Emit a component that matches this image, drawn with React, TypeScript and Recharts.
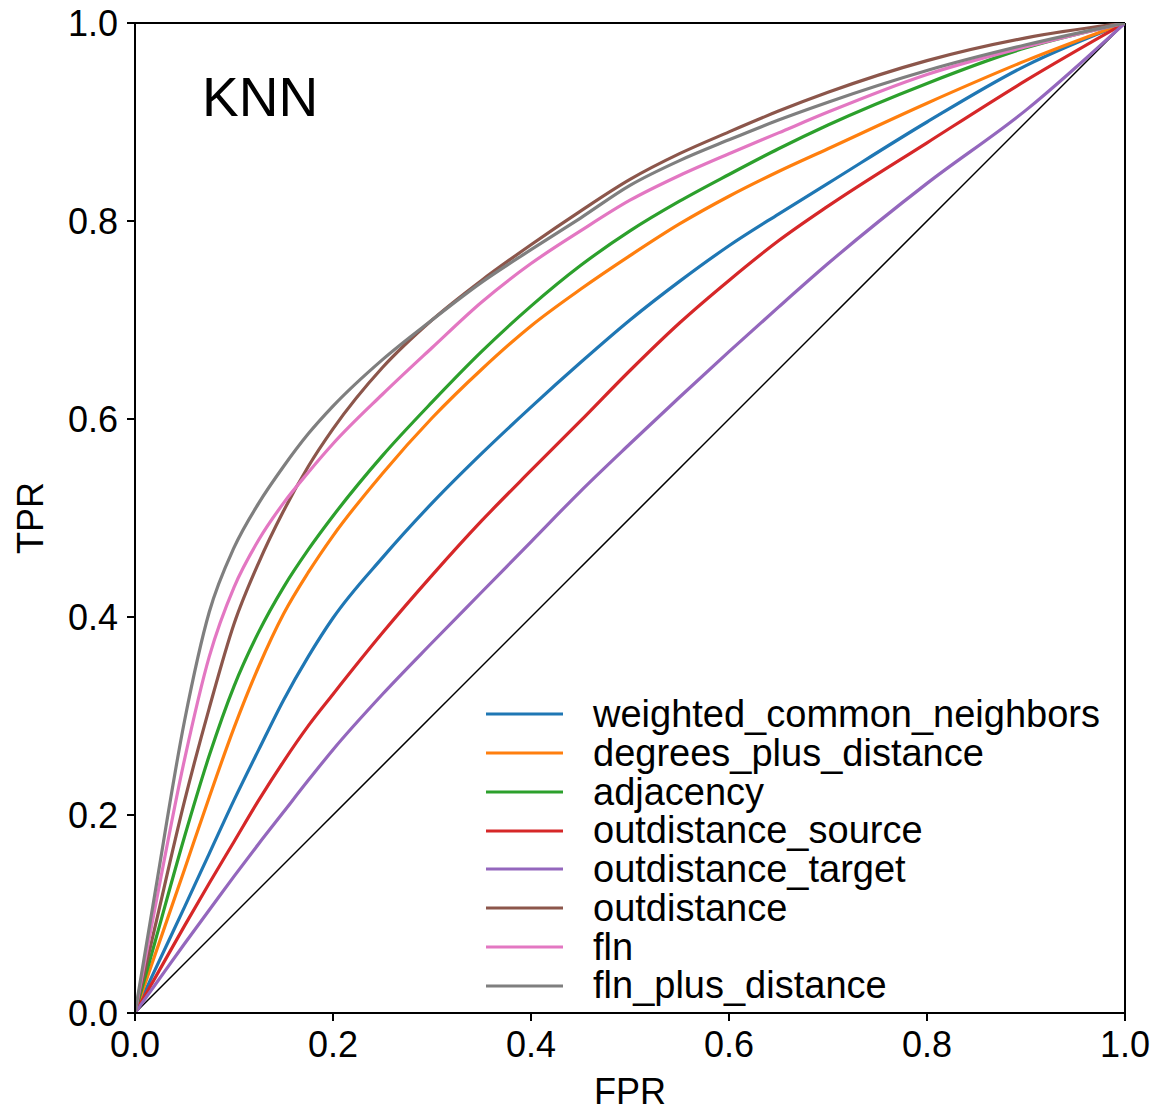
import React from "react";
import {
  LineChart,
  Line,
  XAxis,
  YAxis,
  ReferenceLine,
  Label,
} from "recharts";

// false positive rate grid shared by all curves
const fpr = [0, 0.02, 0.05, 0.075, 0.1, 0.125, 0.15, 0.175, 0.2, 0.25, 0.3, 0.35, 0.4, 0.45, 0.5, 0.55, 0.6, 0.65, 0.7, 0.8, 0.9, 1];

const weightedCommonNeighbors = [0, 0.043, 0.107, 0.161, 0.215, 0.266, 0.316, 0.36, 0.399, 0.46, 0.515, 0.565, 0.612, 0.657, 0.7, 0.739, 0.775, 0.807, 0.838, 0.9, 0.957, 1];
const degreesPlusDistance = [0, 0.058, 0.145, 0.218, 0.288, 0.35, 0.403, 0.445, 0.482, 0.545, 0.601, 0.65, 0.694, 0.731, 0.765, 0.797, 0.825, 0.85, 0.873, 0.919, 0.962, 1];
const adjacency = [0, 0.071, 0.178, 0.26, 0.33, 0.385, 0.43, 0.468, 0.502, 0.563, 0.617, 0.668, 0.714, 0.755, 0.79, 0.82, 0.847, 0.873, 0.897, 0.939, 0.975, 1];
const outdistanceSource = [0, 0.035, 0.088, 0.131, 0.173, 0.215, 0.254, 0.29, 0.322, 0.384, 0.442, 0.497, 0.548, 0.598, 0.649, 0.697, 0.74, 0.78, 0.815, 0.879, 0.942, 1];
const outdistanceTarget = [0, 0.028, 0.07, 0.104, 0.138, 0.171, 0.203, 0.235, 0.266, 0.322, 0.374, 0.425, 0.476, 0.527, 0.575, 0.622, 0.668, 0.713, 0.757, 0.838, 0.912, 1];
const outdistance = [0, 0.086, 0.214, 0.308, 0.393, 0.455, 0.507, 0.552, 0.59, 0.652, 0.7, 0.74, 0.776, 0.81, 0.842, 0.868, 0.89, 0.911, 0.93, 0.962, 0.985, 1];
const fln = [0, 0.105, 0.256, 0.36, 0.43, 0.478, 0.515, 0.546, 0.575, 0.625, 0.672, 0.718, 0.757, 0.79, 0.821, 0.846, 0.868, 0.889, 0.91, 0.948, 0.976, 1];
const flnPlusDistance = [0, 0.12, 0.295, 0.405, 0.47, 0.515, 0.552, 0.585, 0.613, 0.66, 0.7, 0.738, 0.771, 0.803, 0.836, 0.861, 0.882, 0.902, 0.92, 0.952, 0.978, 1];

const ticks = [0, 0.2, 0.4, 0.6, 0.8, 1];
const diagonal = [
  { fpr: 0, diag: 0 },
  { fpr: 1, diag: 1 },
];

const SERIES = [
  { key: "wcn", name: "weighted_common_neighbors", values: weightedCommonNeighbors, color: "#1f77b4" },
  { key: "dpd", name: "degrees_plus_distance", values: degreesPlusDistance, color: "#ff7f0e" },
  { key: "adj", name: "adjacency", values: adjacency, color: "#2ca02c" },
  { key: "ods", name: "outdistance_source", values: outdistanceSource, color: "#d62728" },
  { key: "odt", name: "outdistance_target", values: outdistanceTarget, color: "#9467bd" },
  { key: "od", name: "outdistance", values: outdistance, color: "#8c564b" },
  { key: "fln", name: "fln", values: fln, color: "#e377c2" },
  { key: "flnd", name: "fln_plus_distance", values: flnPlusDistance, color: "#7f7f7f" },
];

const chartData = fpr.map((x, i) => {
  const row: Record<string, number> = { fpr: x };
  SERIES.forEach((s) => {
    row[s.key] = s.values[i];
  });
  return row;
});

const FONT = '"Liberation Sans", Arial, Helvetica, sans-serif';
const tickStyle = { fontSize: 36, fill: "#000", fontFamily: FONT };

export default function App() {
  return (
    <div style={{ position: "absolute", left: 0, top: 0, width: 1159, height: 1114, background: "#fff", fontFamily: FONT }}>
      <LineChart
        width={1159}
        height={1114}
        data={chartData}
        margin={{ top: 23, right: 34, bottom: 0, left: 0 }}
      >
        <XAxis
          dataKey="fpr"
          type="number"
          domain={[0, 1]}
          ticks={ticks}
          tickFormatter={(v: number) => v.toFixed(1)}
          height={101}
          tickSize={8}
          tickMargin={10}
          tick={tickStyle}
          axisLine={{ stroke: "#000", strokeWidth: 2 }}
          tickLine={{ stroke: "#000", strokeWidth: 2 }}
          allowDataOverflow
        >
          <Label value="FPR" position="insideBottom" offset={10} style={{ fontSize: 36, fill: "#000", fontFamily: FONT }} />
        </XAxis>
        <YAxis
          type="number"
          domain={[0, 1]}
          ticks={ticks}
          tickFormatter={(v: number) => v.toFixed(1)}
          width={135}
          tickSize={8}
          tickMargin={9}
          tick={tickStyle}
          axisLine={{ stroke: "#000", strokeWidth: 2 }}
          tickLine={{ stroke: "#000", strokeWidth: 2 }}
          allowDataOverflow
        >
          <Label
            content={() => (
              <text
                x={43}
                y={518}
                transform="rotate(-90 43 518)"
                textAnchor="middle"
                fontSize={36}
                fontFamily={FONT}
                fill="#000"
              >
                TPR
              </text>
            )}
          />
        </YAxis>
        <ReferenceLine y={1} stroke="#000" strokeWidth={2} />
        <ReferenceLine x={1} stroke="#000" strokeWidth={2} />
        <Line
          data={diagonal}
          dataKey="diag"
          type="linear"
          stroke="#000"
          strokeWidth={1.5}
          dot={false}
          activeDot={false}
          isAnimationActive={false}
        />
        {SERIES.map((s) => (
          <Line
            key={s.key}
            dataKey={s.key}
            name={s.name}
            type="monotone"
            stroke={s.color}
            strokeWidth={3.2}
            dot={false}
            activeDot={false}
            isAnimationActive={false}
          />
        ))}
      </LineChart>

      <div style={{ position: "absolute", left: 202, top: 70, fontSize: 55, lineHeight: 1, color: "#000" }}>KNN</div>

      <div style={{ position: "absolute", left: 486, top: 695 }}>
        {SERIES.map((s) => (
          <div key={s.key} style={{ display: "flex", alignItems: "center", height: 38.77 }}>
            <svg width={77} height={6} style={{ display: "block" }}>
              <line x1={0} y1={3} x2={77} y2={3} stroke={s.color} strokeWidth={3.2} />
            </svg>
            <span style={{ marginLeft: 30, fontSize: 38, lineHeight: "38.77px", color: "#000", whiteSpace: "nowrap" }}>
              {s.name}
            </span>
          </div>
        ))}
      </div>
    </div>
  );
}
